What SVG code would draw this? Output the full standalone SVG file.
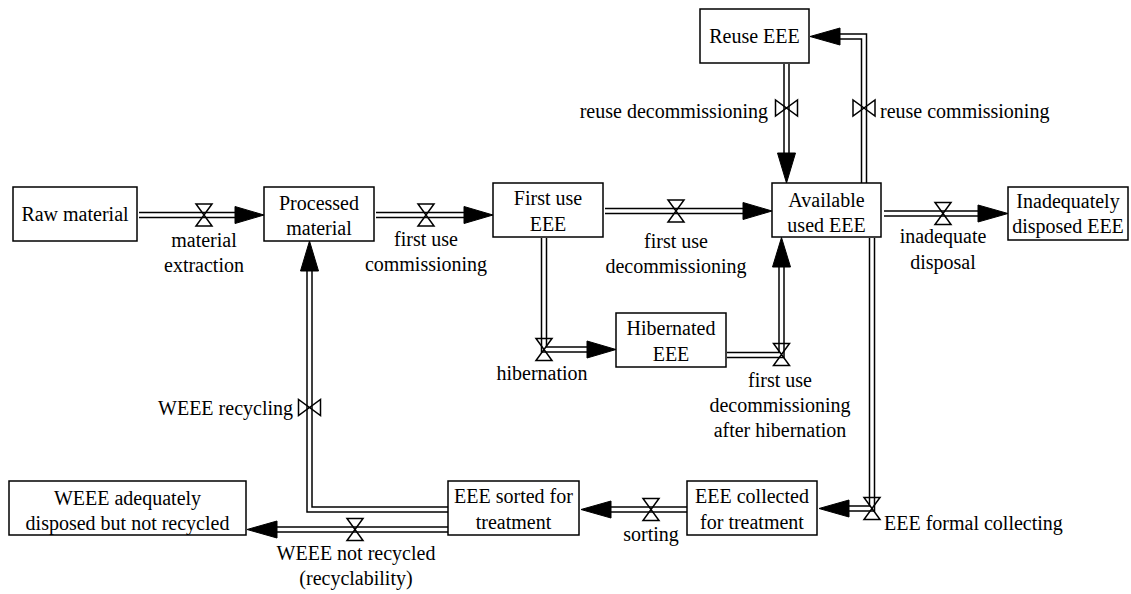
<svg xmlns="http://www.w3.org/2000/svg" width="1131" height="594" viewBox="0 0 1131 594" font-family="Liberation Serif, Times New Roman, serif" font-size="20">
<style>
.box{fill:#fff;stroke:#000;stroke-width:1.5}
.t{text-anchor:middle}
.po{fill:none;stroke:#000;stroke-width:6.5;stroke-linejoin:miter}
.pi{fill:none;stroke:#fff;stroke-width:3.5;stroke-linejoin:miter}
.ah{fill:#000;stroke:#000;stroke-width:1}
.v{fill:none;stroke:#000;stroke-width:1.5;stroke-linejoin:miter}
</style>
<rect width="1131" height="594" fill="#fff"/>
<g id="connectors">
  <path class="po" d="M139 215H236"/>
  <path class="po" d="M376 215H465"/>
  <path class="po" d="M605 211H744"/>
  <path class="po" d="M884 213.5H979"/>
  <path class="po" d="M544 238V349.5H588"/>
  <path class="po" d="M727 355H781.5V266"/>
  <path class="po" d="M786.5 64V154"/>
  <path class="po" d="M864 183V36.5H839"/>
  <path class="po" d="M872 238V508.5H848"/>
  <path class="po" d="M687 509.5H610"/>
  <path class="po" d="M448 529.5H276"/>
  <path class="po" d="M448 509.5H309.5V270"/>
  <path class="pi" d="M139 215H236"/>
  <path class="pi" d="M376 215H465"/>
  <path class="pi" d="M605 211H744"/>
  <path class="pi" d="M884 213.5H979"/>
  <path class="pi" d="M544 238V349.5H588"/>
  <path class="pi" d="M727 355H781.5V266"/>
  <path class="pi" d="M786.5 64V154"/>
  <path class="pi" d="M864 183V36.5H839"/>
  <path class="pi" d="M872 238V508.5H848"/>
  <path class="pi" d="M687 509.5H610"/>
  <path class="pi" d="M448 529.5H276"/>
  <path class="pi" d="M448 509.5H309.5V270"/>
  <polygon class="ah" points="235,206.5 264,215 235,223.5"/>
  <polygon class="ah" points="464,206.5 493,215 464,223.5"/>
  <polygon class="ah" points="743,202.5 772,211 743,219.5"/>
  <polygon class="ah" points="978,205 1008,213.5 978,222"/>
  <polygon class="ah" points="587,341 616,349.5 587,358"/>
  <polygon class="ah" points="772.5,267 781.5,237.5 790.5,267"/>
  <polygon class="ah" points="777.5,153 786.5,183 795.5,153"/>
  <polygon class="ah" points="840,28 810,36.5 840,45"/>
  <polygon class="ah" points="849,500 819,508.5 849,517"/>
  <polygon class="ah" points="611,501 581,509.5 611,518"/>
  <polygon class="ah" points="277,521 247,529.5 277,538"/>
  <polygon class="ah" points="300.5,271 309.5,241 318.5,271"/>
  <path class="v" d="M196 204H212L196 226H212Z"/>
  <path class="v" d="M418 204H434L418 226H434Z"/>
  <path class="v" d="M668 200H684L668 222H684Z"/>
  <path class="v" d="M935 202.5H951L935 224.5H951Z"/>
  <path class="v" d="M536 338.5H552L536 360.5H552Z"/>
  <path class="v" d="M773.5 343.5H789.5L773.5 365.5H789.5Z"/>
  <path class="v" d="M864 497.5H880L864 519.5H880Z"/>
  <path class="v" d="M643 498.5H659L643 520.5H659Z"/>
  <path class="v" d="M347 518.5H363L347 540.5H363Z"/>
  <path class="v" d="M775.5 100V116L797.5 100V116Z"/>
  <path class="v" d="M853 100V116L875 100V116Z"/>
  <path class="v" d="M298.5 399.5V415.5L320.5 399.5V415.5Z"/>
</g>
<g id="flow-labels">
  <text class="t" x="204" y="247">material</text>
  <text class="t" x="204" y="272">extraction</text>
  <text class="t" x="426" y="246">first use</text>
  <text class="t" x="426" y="271">commissioning</text>
  <text class="t" x="676" y="248">first use</text>
  <text class="t" x="676" y="273">decommissioning</text>
  <text class="t" x="943" y="243">inadequate</text>
  <text class="t" x="943" y="269">disposal</text>
  <text class="t" x="542" y="380">hibernation</text>
  <text class="t" x="780" y="387">first use</text>
  <text class="t" x="780" y="412">decommissioning</text>
  <text class="t" x="780" y="437">after hibernation</text>
  <text x="768" y="118" text-anchor="end">reuse decommissioning</text>
  <text x="880" y="118">reuse commissioning</text>
  <text x="884" y="530">EEE formal collecting</text>
  <text class="t" x="651" y="541">sorting</text>
  <text class="t" x="356" y="560">WEEE not recycled</text>
  <text class="t" x="356" y="585">(recyclability)</text>
  <text x="293" y="415" text-anchor="end">WEEE recycling</text>
</g>
<g id="raw-material">
  <rect class="box" x="13" y="187" width="124" height="54"/>
  <text class="t" x="75" y="221">Raw material</text>
</g>
<g id="processed-material">
  <rect class="box" x="264" y="187" width="110" height="54"/>
  <text class="t" x="319" y="210">Processed</text>
  <text class="t" x="319" y="235">material</text>
</g>
<g id="first-use-eee">
  <rect class="box" x="493" y="183" width="110" height="54"/>
  <text class="t" x="548" y="205">First use</text>
  <text class="t" x="548" y="231">EEE</text>
</g>
<g id="available-used-eee">
  <rect class="box" x="772" y="183" width="109" height="54"/>
  <text class="t" x="826.5" y="207">Available</text>
  <text class="t" x="826.5" y="232">used EEE</text>
</g>
<g id="inadequately-disposed-eee">
  <rect class="box" x="1008" y="187" width="120" height="53"/>
  <text class="t" x="1068" y="208">Inadequately</text>
  <text class="t" x="1068" y="233">disposed EEE</text>
</g>
<g id="reuse-eee">
  <rect class="box" x="700" y="9" width="109" height="54"/>
  <text class="t" x="754.5" y="43">Reuse EEE</text>
</g>
<g id="hibernated-eee">
  <rect class="box" x="616" y="313" width="110" height="54"/>
  <text class="t" x="671" y="335">Hibernated</text>
  <text class="t" x="671" y="361">EEE</text>
</g>
<g id="eee-collected">
  <rect class="box" x="687" y="481" width="130" height="54"/>
  <text class="t" x="752" y="503">EEE collected</text>
  <text class="t" x="752" y="529">for treatment</text>
</g>
<g id="eee-sorted">
  <rect class="box" x="448" y="481" width="131" height="54"/>
  <text class="t" x="513.5" y="503">EEE sorted for</text>
  <text class="t" x="513.5" y="529">treatment</text>
</g>
<g id="weee-adequately-disposed">
  <rect class="box" x="9" y="481" width="237" height="54"/>
  <text class="t" x="127.5" y="505">WEEE adequately</text>
  <text class="t" x="127.5" y="530">disposed but not recycled</text>
</g>
</svg>
